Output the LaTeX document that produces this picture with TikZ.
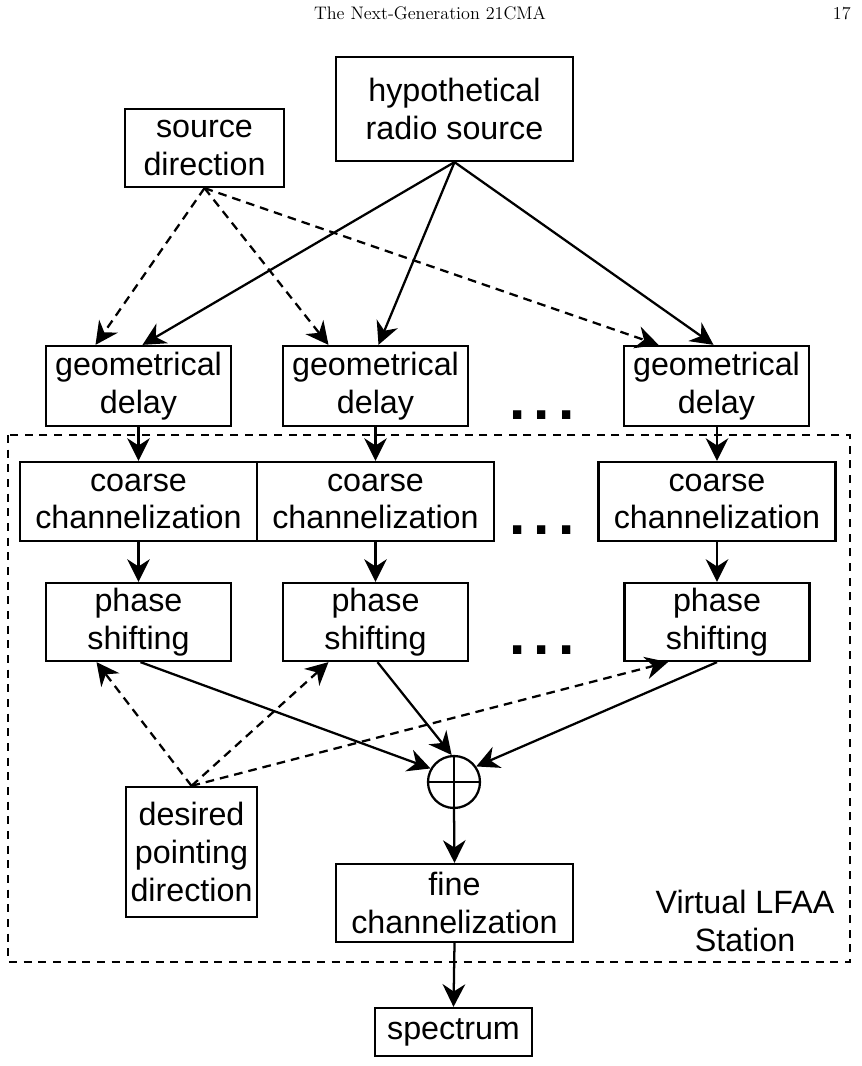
\documentclass[tikz,border=0pt]{standalone}
\usepackage{fontspec}
\newfontfamily\arial{Liberation Sans}
\usetikzlibrary{arrows.meta,calc}
\tikzset{
  box/.style={draw, line width=1.7pt, align=center, inner sep=0pt,
    font=\arial\fontsize{24.2}{28.3}\selectfont},
  arr/.style={-{Stealth[length=17pt,width=17pt,inset=5.5pt]}, line width=1.7pt},
  darr/.style={arr, dash pattern=on 6.5pt off 4.5pt},
  dots/.style={font=\arial\bfseries\fontsize{44}{44}\selectfont, inner sep=0pt, anchor=base},
}
\begin{document}
\begin{tikzpicture}[x=0.75pt,y=-0.75pt]
\useasboundingbox (0,0) rectangle (861,1066);
% header
\node[font=\fontsize{13.6}{16}\selectfont, anchor=base, inner sep=0pt] (hdr) at (430,20) {The Next-Generation 21CMA};
\node[font=\fontsize{13.6}{16}\selectfont, anchor=base east, inner sep=0pt] (pg) at (851,20) {17};
% dashed station frame
\draw[line width=1.6pt, dash pattern=on 6pt off 5pt] (8,435) rectangle (850,962);
% nodes
\node[box, minimum width=177.75pt, minimum height=78pt] (hyp) at (454.5,109) {hypothetical\\radio source};
\node[box, minimum width=119.25pt, minimum height=58.5pt] (src) at (204.5,148) {source\\direction};
\node[box, minimum width=138.75pt, minimum height=60pt] (g1) at (138.5,386) {geometrical\\delay};
\node[box, minimum width=138.75pt, minimum height=60pt] (g2) at (375.5,386) {geometrical\\delay};
\node[box, minimum width=138.75pt, minimum height=60pt] (g3) at (716.5,386) {geometrical\\delay};
\node[box, minimum width=177.75pt, minimum height=59.25pt] (c1) at (138.5,501.5) {coarse\\channelization};
\node[box, minimum width=177.75pt, minimum height=59.25pt] (c2) at (375.5,501.5) {coarse\\channelization};
\node[box, minimum width=177.75pt, minimum height=59.25pt] (c3) at (717,501.5) {coarse\\channelization};
\node[box, minimum width=138.75pt, minimum height=58.5pt] (p1) at (138.5,622) {phase\\shifting};
\node[box, minimum width=138.75pt, minimum height=58.5pt] (p2) at (375.5,622) {phase\\shifting};
\node[box, minimum width=138.75pt, minimum height=58.5pt] (p3) at (717,622) {phase\\shifting};
\node[circle, draw, line width=1.7pt, minimum size=39pt, inner sep=0pt,
  path picture={\draw[line width=1.7pt] (path picture bounding box.north) -- (path picture bounding box.south)
    (path picture bounding box.west) -- (path picture bounding box.east);}] (sum) at (454,782) {};
\node[box, minimum width=98.25pt, minimum height=97.5pt] (des) at (191.5,852) {desired\\pointing\\direction};
\node[box, minimum width=177.75pt, minimum height=58.5pt] (fine) at (454.5,903) {fine\\channelization};
\node[box, minimum width=117.75pt, minimum height=36pt] (spec) at (453.5,1032) {spectrum};
\node[align=center, inner sep=0pt, font=\arial\fontsize{24.2}{28.3}\selectfont] (vlfaa) at (745,921) {Virtual LFAA\\Station};
% ellipses
\node[dots] (d1) at (542,419) {.\kern6pt.\kern6pt.};
\node[dots] (d2) at (542,534) {.\kern6pt.\kern6pt.};
\node[dots] (d3) at (542,654) {.\kern6pt.\kern6pt.};
% source arrows
\draw[arr] (hyp.south) -- ($(g1.north)+(4,0)$);
\draw[arr] (hyp.south) -- ($(g2.north)+(3,0)$);
\draw[arr] (hyp.south) -- ($(g3.north)+(-3,0)$);
\draw[darr] (src.south) -- ($(g1.north)+(-43,0)$);
\draw[darr] (src.south) -- ($(g2.north)+(-47,0)$);
\draw[darr] (src.south) -- ($(g3.north)+(-58,0)$);
% chains
\draw[arr] (g1.south) -- (c1.north);
\draw[arr] (g2.south) -- (c2.north);
\draw[arr] ($(g3.south)+(0.5,0)$) -- (c3.north);
\draw[arr] (c1.south) -- (p1.north);
\draw[arr] (c2.south) -- (p2.north);
\draw[arr] (c3.south) -- (p3.north);
% phase to sum
\draw[arr] ($(p1.south)+(2,0)$) -- (sum.150);
\draw[arr] ($(p2.south)+(2,0)$) -- (sum.95);
\draw[arr] (p3.south) -- (sum.35);
% pointing direction
\draw[darr] (des.north) -- ($(p1.south)+(-42,0)$);
\draw[darr] (des.north) -- ($(p2.south)+(-47,0)$);
\draw[darr] (des.north) -- ($(p3.south)+(-49,0)$);
% output
\draw[arr] (sum.south) -- (fine.north);
\draw[arr] (fine.south) -- (spec.north);
\end{tikzpicture}
\end{document}
